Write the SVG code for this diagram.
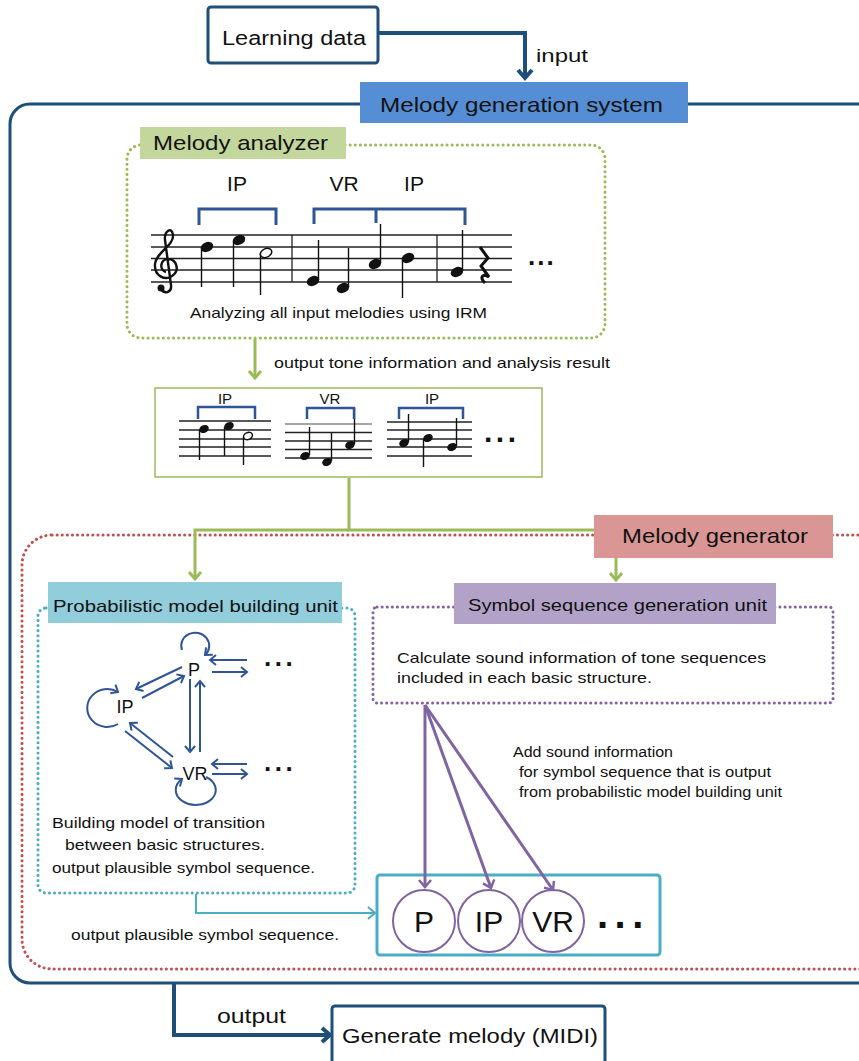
<svg xmlns="http://www.w3.org/2000/svg" width="859" height="1061" viewBox="0 0 859 1061">
<style>
text{font-family:"Liberation Sans","Noto Sans CJK JP",sans-serif;fill:#111}
.t21{font-size:21px}.t20{font-size:20px}.t17{font-size:17px}.t15{font-size:15px}.t14{font-size:14px}
.mid{text-anchor:middle}
.dots{font-weight:bold}
.staff line{stroke:#222;stroke-width:1.3}
.stem{stroke:#111;stroke-width:1.4}
.head{fill:#111}
.half{fill:#fff;stroke:#111;stroke-width:1.5}
.br{fill:none;stroke:#2f5597;stroke-linejoin:miter}
.g{fill:none;stroke:#2f5597;stroke-width:2}
</style>
<defs>
<marker id="mDB" markerUnits="userSpaceOnUse" markerWidth="20" markerHeight="20" refX="0" refY="0" orient="auto" overflow="visible"><path d="M-8,-7 L0,0 L-8,7" fill="none" stroke="#1f4e79" stroke-width="4"/></marker>
<marker id="mG" markerUnits="userSpaceOnUse" markerWidth="20" markerHeight="20" refX="0" refY="0" orient="auto" overflow="visible"><path d="M-7,-6 L0,0 L-7,6" fill="none" stroke="#9bbb59" stroke-width="3"/></marker>
<marker id="mB" markerUnits="userSpaceOnUse" markerWidth="20" markerHeight="20" refX="0" refY="0" orient="auto" overflow="visible"><path d="M-6,-5 L0,0 L-6,5" fill="none" stroke="#2f5597" stroke-width="2"/></marker>
<marker id="mP" markerUnits="userSpaceOnUse" markerWidth="20" markerHeight="20" refX="0" refY="0" orient="auto" overflow="visible"><path d="M-7,-6 L0,0 L-7,6" fill="none" stroke="#8064a2" stroke-width="2.5"/></marker>
<marker id="mC" markerUnits="userSpaceOnUse" markerWidth="20" markerHeight="20" refX="0" refY="0" orient="auto" overflow="visible"><path d="M-7,-6 L0,0 L-7,6" fill="none" stroke="#4bacc6" stroke-width="2"/></marker>
</defs>
<rect width="859" height="1061" fill="#fff"/>

<g id="system-frame">
<rect x="10" y="104" width="870" height="879" rx="20" fill="none" stroke="#1f4e79" stroke-width="3"/>
</g>

<g id="melody-generator-frame">
<rect x="22" y="535" width="870" height="434" rx="30" fill="none" stroke="#c0504d" stroke-width="3" stroke-dasharray="0.1 5" stroke-linecap="round"/>
</g>

<g id="learning-data">
<rect x="208" y="7" width="170" height="56" rx="3" fill="#fff" stroke="#1f4e79" stroke-width="3"/>
<text class="t20" x="222" y="45" textLength="144" lengthAdjust="spacingAndGlyphs">Learning data</text>
</g>
<g id="input-label"><text x="536" y="62" style="font-size:19px" textLength="52" lengthAdjust="spacingAndGlyphs">input</text></g>

<g id="melody-generation-system">
<rect x="360" y="82" width="328" height="41" fill="#558ed5"/>
<text class="t21" x="380" y="112" textLength="283" lengthAdjust="spacingAndGlyphs">Melody generation system</text>
</g>

<g id="melody-analyzer">
<rect x="127" y="145" width="478" height="193" rx="14" fill="none" stroke="#9bbb59" stroke-width="3" stroke-dasharray="0.1 5" stroke-linecap="round"/>
<rect x="140" y="127" width="206" height="32" fill="#c3d69b"/>
<text class="t21" x="153" y="150" textLength="175" lengthAdjust="spacingAndGlyphs">Melody analyzer</text>
<g class="staff">
<line x1="151" y1="235" x2="512" y2="235"/><line x1="151" y1="247" x2="512" y2="247"/><line x1="151" y1="258.5" x2="512" y2="258.5"/><line x1="151" y1="270" x2="512" y2="270"/><line x1="151" y1="282" x2="512" y2="282"/>
<line x1="292" y1="235" x2="292" y2="282"/><line x1="437" y1="235" x2="437" y2="282"/>
</g>
<path d="M161,289 C165,295 172,292 171,285 L165,240 C164,231 172,226 173,235 C174,246 156,252 155,264 C154,276 165,281 172,276 C180,271 177,259 168,259 C160,259 159,270 166,272" fill="none" stroke="#111" stroke-width="2.4"/>
<circle cx="161" cy="288" r="3.5" fill="#111"/>
<g>
<ellipse class="head" cx="207" cy="247" rx="6.5" ry="4.8" transform="rotate(-25 207 247)"/><line class="stem" x1="201.5" y1="248" x2="201.5" y2="287"/>
<ellipse class="head" cx="239" cy="240" rx="6.5" ry="4.8" transform="rotate(-25 239 240)"/><line class="stem" x1="233.5" y1="241" x2="233.5" y2="287"/>
<ellipse class="half" cx="266" cy="253" rx="6" ry="4.3" transform="rotate(-25 266 253)"/><line class="stem" x1="260.5" y1="254" x2="260.5" y2="295"/>
<ellipse class="head" cx="313" cy="281" rx="6.5" ry="4.8" transform="rotate(-25 313 281)"/><line class="stem" x1="318.5" y1="280" x2="318.5" y2="240"/>
<ellipse class="head" cx="343" cy="288" rx="6.5" ry="4.8" transform="rotate(-25 343 288)"/><line class="stem" x1="348.5" y1="287" x2="348.5" y2="248"/>
<ellipse class="head" cx="375" cy="264" rx="6.5" ry="4.8" transform="rotate(-25 375 264)"/><line class="stem" x1="380.5" y1="263" x2="380.5" y2="224"/>
<ellipse class="head" cx="408" cy="258" rx="6.5" ry="4.8" transform="rotate(-25 408 258)"/><line class="stem" x1="402.5" y1="259" x2="402.5" y2="298"/>
<ellipse class="head" cx="457" cy="272" rx="6.5" ry="4.8" transform="rotate(-25 457 272)"/><line class="stem" x1="462.5" y1="271" x2="462.5" y2="230"/>
<path d="M480,247 L488,258 L481,266 L489,277 C483,273 479,277 485,283" fill="none" stroke="#111" stroke-width="3"/>
</g>
<path class="br" d="M199,225 L199,209 L276,209 L276,225" stroke-width="3"/>
<path class="br" d="M314,224 L314,209 L465,209 L465,225 M376,209 L376,223" stroke-width="3"/>
<text class="t21 mid" x="237" y="191">IP</text>
<text class="t21 mid" x="344" y="191">VR</text>
<text class="t21 mid" x="414" y="191">IP</text>
<text class="t20 dots" x="528" y="265" style="font-size:26px;letter-spacing:2px">...</text>
<text class="t15" x="190" y="318" textLength="297" lengthAdjust="spacingAndGlyphs">Analyzing all input melodies using IRM</text>
</g>
<g id="output-tone-label"><text class="t15" x="274" y="368" textLength="336" lengthAdjust="spacingAndGlyphs">output tone information and analysis result</text></g>

<g id="analysis-result">
<rect x="155" y="388" width="387" height="89" fill="#fff" stroke="#9bbb59" stroke-width="1.5"/>
<g class="staff">
<line x1="179" y1="421" x2="271" y2="421"/><line x1="179" y1="430" x2="271" y2="430"/><line x1="179" y1="439" x2="271" y2="439"/><line x1="179" y1="447" x2="271" y2="447"/><line x1="179" y1="456" x2="271" y2="456"/>
<line x1="285" y1="424" x2="372" y2="424" style="stroke:#888"/><line x1="285" y1="432.5" x2="372" y2="432.5"/><line x1="285" y1="441" x2="372" y2="441"/><line x1="285" y1="449.5" x2="372" y2="449.5"/><line x1="285" y1="458" x2="372" y2="458"/>
<line x1="387" y1="422" x2="472" y2="422"/><line x1="387" y1="430" x2="472" y2="430"/><line x1="387" y1="439" x2="472" y2="439"/><line x1="387" y1="447" x2="472" y2="447"/><line x1="387" y1="456" x2="472" y2="456"/>
</g>
<ellipse class="head" cx="204" cy="429" rx="5" ry="3.8" transform="rotate(-25 204 429)"/><line class="stem" x1="199.5" y1="430" x2="199.5" y2="460"/>
<ellipse class="head" cx="229" cy="426" rx="5" ry="3.8" transform="rotate(-25 229 426)"/><line class="stem" x1="224.5" y1="427" x2="224.5" y2="456"/>
<ellipse class="half" cx="248" cy="436" rx="4.6" ry="3.4" transform="rotate(-25 248 436)"/><line class="stem" x1="243.5" y1="437" x2="243.5" y2="465"/>
<ellipse class="head" cx="305" cy="456" rx="5" ry="3.8" transform="rotate(-25 305 456)"/><line class="stem" x1="309.5" y1="455" x2="309.5" y2="427"/>
<ellipse class="head" cx="327" cy="462" rx="5" ry="3.8" transform="rotate(-25 327 462)"/><line class="stem" x1="331.5" y1="461" x2="331.5" y2="433"/>
<ellipse class="head" cx="350" cy="445" rx="5" ry="3.8" transform="rotate(-25 350 445)"/><line class="stem" x1="354.5" y1="444" x2="354.5" y2="408"/>
<ellipse class="head" cx="404" cy="443" rx="5" ry="3.8" transform="rotate(-25 404 443)"/><line class="stem" x1="408.5" y1="442" x2="408.5" y2="414"/>
<ellipse class="head" cx="428" cy="438" rx="5" ry="3.8" transform="rotate(-25 428 438)"/><line class="stem" x1="423.5" y1="439" x2="423.5" y2="467"/>
<ellipse class="head" cx="452" cy="447" rx="5" ry="3.8" transform="rotate(-25 452 447)"/><line class="stem" x1="456.5" y1="446" x2="456.5" y2="418"/>
<path class="br" d="M198,419 L198,407 L255,407 L255,419" stroke-width="2.5"/>
<path class="br" d="M307,419 L307,408 L354,408 L354,419" stroke-width="2.5"/>
<path class="br" d="M399,419 L399,408 L463,408 L463,419" stroke-width="2.5"/>
<text class="t15 mid" x="225" y="404">IP</text>
<text class="t15 mid" x="330" y="404">VR</text>
<text class="t15 mid" x="432" y="404">IP</text>
<text class="dots" x="484" y="442" style="font-size:30px;letter-spacing:3.5px">...</text>
</g>

<g id="melody-generator-label">
<rect x="594" y="515" width="239" height="43" fill="#d99694"/>
<text class="t21" x="622" y="543" textLength="186" lengthAdjust="spacingAndGlyphs">Melody generator</text>
</g>

<g id="probabilistic-model-unit">
<rect x="38" y="608" width="317" height="285" rx="8" fill="none" stroke="#4bacc6" stroke-width="3" stroke-dasharray="0.1 5" stroke-linecap="round"/>
<rect x="48" y="582" width="294" height="41" fill="#92cddc"/>
<text class="t17" x="53" y="612" textLength="285" lengthAdjust="spacingAndGlyphs">Probabilistic model building unit</text>
<g id="graph">
<path class="g" d="M182,650 A14,13 0 1 1 205,655" marker-end="url(#mB)"/>
<path class="g" d="M118,724 A20,19 0 1 1 118,692" marker-end="url(#mB)"/>
<path class="g" d="M206,777 A20,15 0 1 1 182,779" marker-end="url(#mB)"/>
<path class="g" d="M182,667 L136,689" marker-end="url(#mB)"/>
<path class="g" d="M142,698 L184,676" marker-end="url(#mB)"/>
<path class="g" d="M190,679 L190,752" marker-end="url(#mB)"/>
<path class="g" d="M200,752 L200,681" marker-end="url(#mB)"/>
<path class="g" d="M173,757 L130,723" marker-end="url(#mB)"/>
<path class="g" d="M125,731 L172,768" marker-end="url(#mB)"/>
<path class="g" d="M247,660 L210,660" marker-end="url(#mB)"/>
<path class="g" d="M212,672 L247,672" marker-end="url(#mB)"/>
<path class="g" d="M247,764 L212,764" marker-end="url(#mB)"/>
<path class="g" d="M212,774 L247,774" marker-end="url(#mB)"/>
<text class="mid" x="194" y="676" style="font-size:18px">P</text>
<text class="mid" x="125" y="713" style="font-size:18px">IP</text>
<text class="mid" x="195" y="780" style="font-size:18px">VR</text>
<text class="dots" x="264" y="666" style="font-size:26px;letter-spacing:3.5px">...</text>
<text class="dots" x="264" y="771" style="font-size:26px;letter-spacing:3.5px">...</text>
</g>
<text class="t15" x="52" y="828" textLength="213" lengthAdjust="spacingAndGlyphs">Building model of transition</text>
<text class="t15" x="65" y="850" textLength="200" lengthAdjust="spacingAndGlyphs">between basic structures.</text>
<text class="t15" x="52" y="873" textLength="263" lengthAdjust="spacingAndGlyphs">output plausible symbol sequence.</text>
</g>

<g id="symbol-sequence-unit">
<rect x="373" y="607" width="460" height="96" rx="4" fill="none" stroke="#8064a2" stroke-width="3" stroke-dasharray="0.1 5" stroke-linecap="round"/>
<rect x="454" y="583" width="322" height="41" fill="#b3a2c7"/>
<text class="t17" x="468" y="611" textLength="299" lengthAdjust="spacingAndGlyphs">Symbol sequence generation unit</text>
<text class="t15" x="397" y="663" textLength="369" lengthAdjust="spacingAndGlyphs">Calculate sound information of tone sequences</text>
<text class="t15" x="397" y="683" textLength="255" lengthAdjust="spacingAndGlyphs">included in each basic structure.</text>
</g>

<g id="add-sound-label">
<text class="t14" x="513" y="757" textLength="160" lengthAdjust="spacingAndGlyphs">Add sound information</text>
<text class="t14" x="519" y="777" textLength="252" lengthAdjust="spacingAndGlyphs">for symbol sequence that is output</text>
<text class="t14" x="519" y="797" textLength="263" lengthAdjust="spacingAndGlyphs">from probabilistic model building unit</text>
</g>

<g id="symbol-sequence">
<rect x="377" y="875" width="283" height="80" rx="3" fill="#fff" stroke="#4bacc6" stroke-width="3"/>
<circle cx="424" cy="921" r="31" fill="#fff" stroke="#8064a2" stroke-width="2"/>
<circle cx="489" cy="921" r="31" fill="#fff" stroke="#8064a2" stroke-width="2"/>
<circle cx="553" cy="921" r="31" fill="#fff" stroke="#8064a2" stroke-width="2"/>
<text class="mid" x="424" y="932" style="font-size:30px">P</text>
<text class="mid" x="489" y="932" style="font-size:30px">IP</text>
<text class="mid" x="553" y="932" style="font-size:30px">VR</text>
<text class="dots" x="597" y="928" style="font-size:40px;letter-spacing:6.5px">...</text>
</g>
<g id="output-plausible-label"><text class="t14" x="71" y="940" textLength="268" lengthAdjust="spacingAndGlyphs">output plausible symbol sequence.</text></g>

<g id="output-label"><text class="t20" x="217" y="1023" textLength="69" lengthAdjust="spacingAndGlyphs">output</text></g>
<g id="generate-melody">
<rect x="332" y="1006" width="273" height="70" rx="3" fill="#fff" stroke="#1f4e79" stroke-width="3"/>
<text class="t20" x="342" y="1043" textLength="256" lengthAdjust="spacingAndGlyphs">Generate melody (MIDI)</text>
</g>

<g id="connectors">
<path d="M378,33 L525,33 L525,78" fill="none" stroke="#1f4e79" stroke-width="4" marker-end="url(#mDB)"/>
<path d="M255,339 L255,378" fill="none" stroke="#9bbb59" stroke-width="3" marker-end="url(#mG)"/>
<path d="M349,478 L349,530 L594,530" fill="none" stroke="#9bbb59" stroke-width="3"/>
<path d="M349,530 L195,530 L195,579" fill="none" stroke="#9bbb59" stroke-width="3" marker-end="url(#mG)"/>
<path d="M616,558 L616,580" fill="none" stroke="#9bbb59" stroke-width="3" marker-end="url(#mG)"/>
<path d="M425,705 L425,887" fill="none" stroke="#8064a2" stroke-width="3" marker-end="url(#mP)"/>
<path d="M425,705 L491,888" fill="none" stroke="#8064a2" stroke-width="3" marker-end="url(#mP)"/>
<path d="M425,705 L553,890" fill="none" stroke="#8064a2" stroke-width="3" marker-end="url(#mP)"/>
<path d="M196,894 L196,913 L375,913" fill="none" stroke="#4bacc6" stroke-width="2" marker-end="url(#mC)"/>
<path d="M174,984 L174,1035 L330,1035" fill="none" stroke="#1f4e79" stroke-width="4" marker-end="url(#mDB)"/>
</g>
</svg>
